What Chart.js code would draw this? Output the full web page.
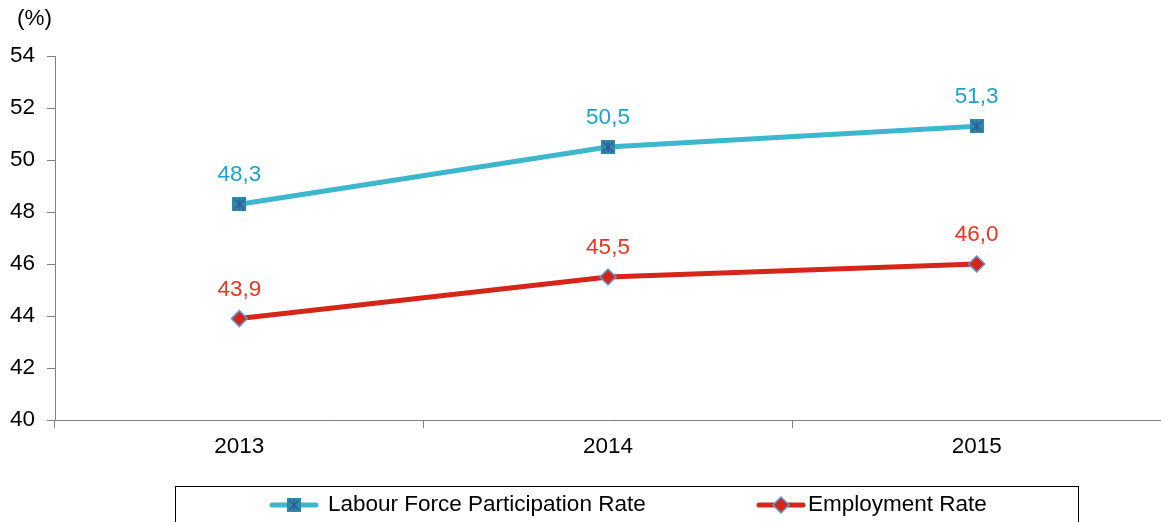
<!DOCTYPE html>
<html>
<head>
<meta charset="utf-8">
<script src="https://cdn.jsdelivr.net/npm/chart.js@4"></script>
<style>
  html, body { margin: 0; padding: 0; background: #fff; overflow: hidden; }
  #wrap { width: 1161px; height: 522px; }
</style>
</head>
<body>
<div id="wrap"><canvas id="grafica"></canvas></div>
<script>
const anios = ['2013', '2014', '2015'];
const participacion = [48.3, 50.5, 51.3];
const empleo = [43.9, 45.5, 46.0];
const etiquetas = ['Labour Force Participation Rate', 'Employment Rate'];
const ejeYmin = 40, ejeYmax = 54, ejeYpaso = 2;

const fuente = 'Liberation Sans, Arial, sans-serif';
const tam = 22.5;
const cian = '#3DB7CE';
const rojo = '#D6261A';

// marcador cuadrado con asterisco
function marcaCuadrado() {
    const c = document.createElement('canvas');
    c.width = 14; c.height = 14;
    const g = c.getContext('2d');
    g.fillStyle = '#2A8BAA';
    g.fillRect(0, 0, 14, 14);
    g.strokeStyle = '#3B4F9C';
    g.lineWidth = 1.2;
    g.beginPath();
    g.moveTo(2, 2); g.lineTo(12, 12);
    g.moveTo(12, 2); g.lineTo(2, 12);
    g.moveTo(7, 1.5); g.lineTo(7, 12.5);
    g.stroke();
    return c;
}
const cuadrado = marcaCuadrado();

function rotulo(v) { return v.toFixed(1).replace('.', ','); }

const extras = {
    id: 'extras',
    afterDatasetsDraw(chart) {
        const ctx = chart.ctx;
        ctx.save();
        ctx.font = tam + 'px ' + fuente;
        ctx.textAlign = 'center';
        ctx.textBaseline = 'middle';
        const colores = ['#1AA3D3', '#F0321F'];
        chart.data.datasets.forEach((ds, i) => {
            const meta = chart.getDatasetMeta(i);
            ctx.fillStyle = colores[i];
            meta.data.forEach((p, j) => {
                ctx.fillText(rotulo(ds.data[j]), p.x, p.y - 29);
            });
        });
        ctx.restore();
    },
    afterDraw(chart) {
        const ctx = chart.ctx;
        ctx.save();
        ctx.font = tam + 'px ' + fuente;
        ctx.fillStyle = '#000';
        ctx.textAlign = 'left';
        ctx.textBaseline = 'middle';
        ctx.fillText('(%)', 17, 19);

        // leyenda con marco
        ctx.strokeStyle = '#000';
        ctx.lineWidth = 1;
        ctx.strokeRect(175.5, 486.5, 903, 60);
        const y = 505;
        const items = [
            { x: 270, tx: 328, color: cian },
            { x: 757, tx: 808, color: rojo }
        ];
        items.forEach((it, i) => {
            ctx.strokeStyle = it.color;
            ctx.lineWidth = 5;
            ctx.lineCap = 'round';
            ctx.beginPath();
            ctx.moveTo(it.x + 2, y);
            ctx.lineTo(it.x + 46, y);
            ctx.stroke();
            const cx = it.x + 24;
            if (i === 0) {
                ctx.drawImage(cuadrado, cx - 7, y - 7);
            } else {
                ctx.fillStyle = rojo;
                ctx.strokeStyle = '#5B9BD5';
                ctx.lineWidth = 1.5;
                ctx.beginPath();
                ctx.moveTo(cx, y - 8); ctx.lineTo(cx + 8, y);
                ctx.lineTo(cx, y + 8); ctx.lineTo(cx - 8, y);
                ctx.closePath();
                ctx.fill(); ctx.stroke();
            }
            ctx.fillStyle = '#000';
            ctx.fillText(etiquetas[i], it.tx, y);
        });
        ctx.restore();
    }
};

new Chart(document.getElementById('grafica').getContext('2d'), {
    type: 'line',
    data: {
        labels: anios,
        datasets: [{
            label: etiquetas[0],
            data: participacion,
            borderColor: cian,
            borderWidth: 5,
            pointStyle: cuadrado,
            pointRadius: 7,
            pointHoverRadius: 7,
            tension: 0
        }, {
            label: etiquetas[1],
            data: empleo,
            borderColor: rojo,
            borderWidth: 5,
            pointStyle: 'rectRot',
            pointRadius: 8,
            pointHoverRadius: 8,
            pointBackgroundColor: rojo,
            pointBorderColor: '#5B9BD5',
            pointBorderWidth: 1.5,
            tension: 0
        }]
    },
    options: {
        responsive: true,
        maintainAspectRatio: false,
        animation: false,
        events: [],
        layout: { autoPadding: false, padding: { top: 56, right: 0, left: 0, bottom: 62 } },
        plugins: {
            legend: { display: false },
            tooltip: { enabled: false }
        },
        scales: {
            x: {
                offset: true,
                grid: { drawOnChartArea: false, offset: true, tickLength: 8, color: '#808080' },
                border: { display: true, color: '#808080', width: 1 },
                ticks: { color: '#000', font: { family: fuente, size: tam }, padding: 5 },
                afterFit: s => { s.height = 40; }
            },
            y: {
                min: ejeYmin,
                max: ejeYmax,
                ticks: { stepSize: ejeYpaso, color: '#000', font: { family: fuente, size: tam }, padding: 12 },
                grid: { drawOnChartArea: false, tickLength: 8, color: '#808080' },
                border: { display: true, color: '#808080', width: 1 },
                afterFit: s => { s.width = 55; }
            }
        }
    },
    plugins: [extras]
});
</script>
</body>
</html>
